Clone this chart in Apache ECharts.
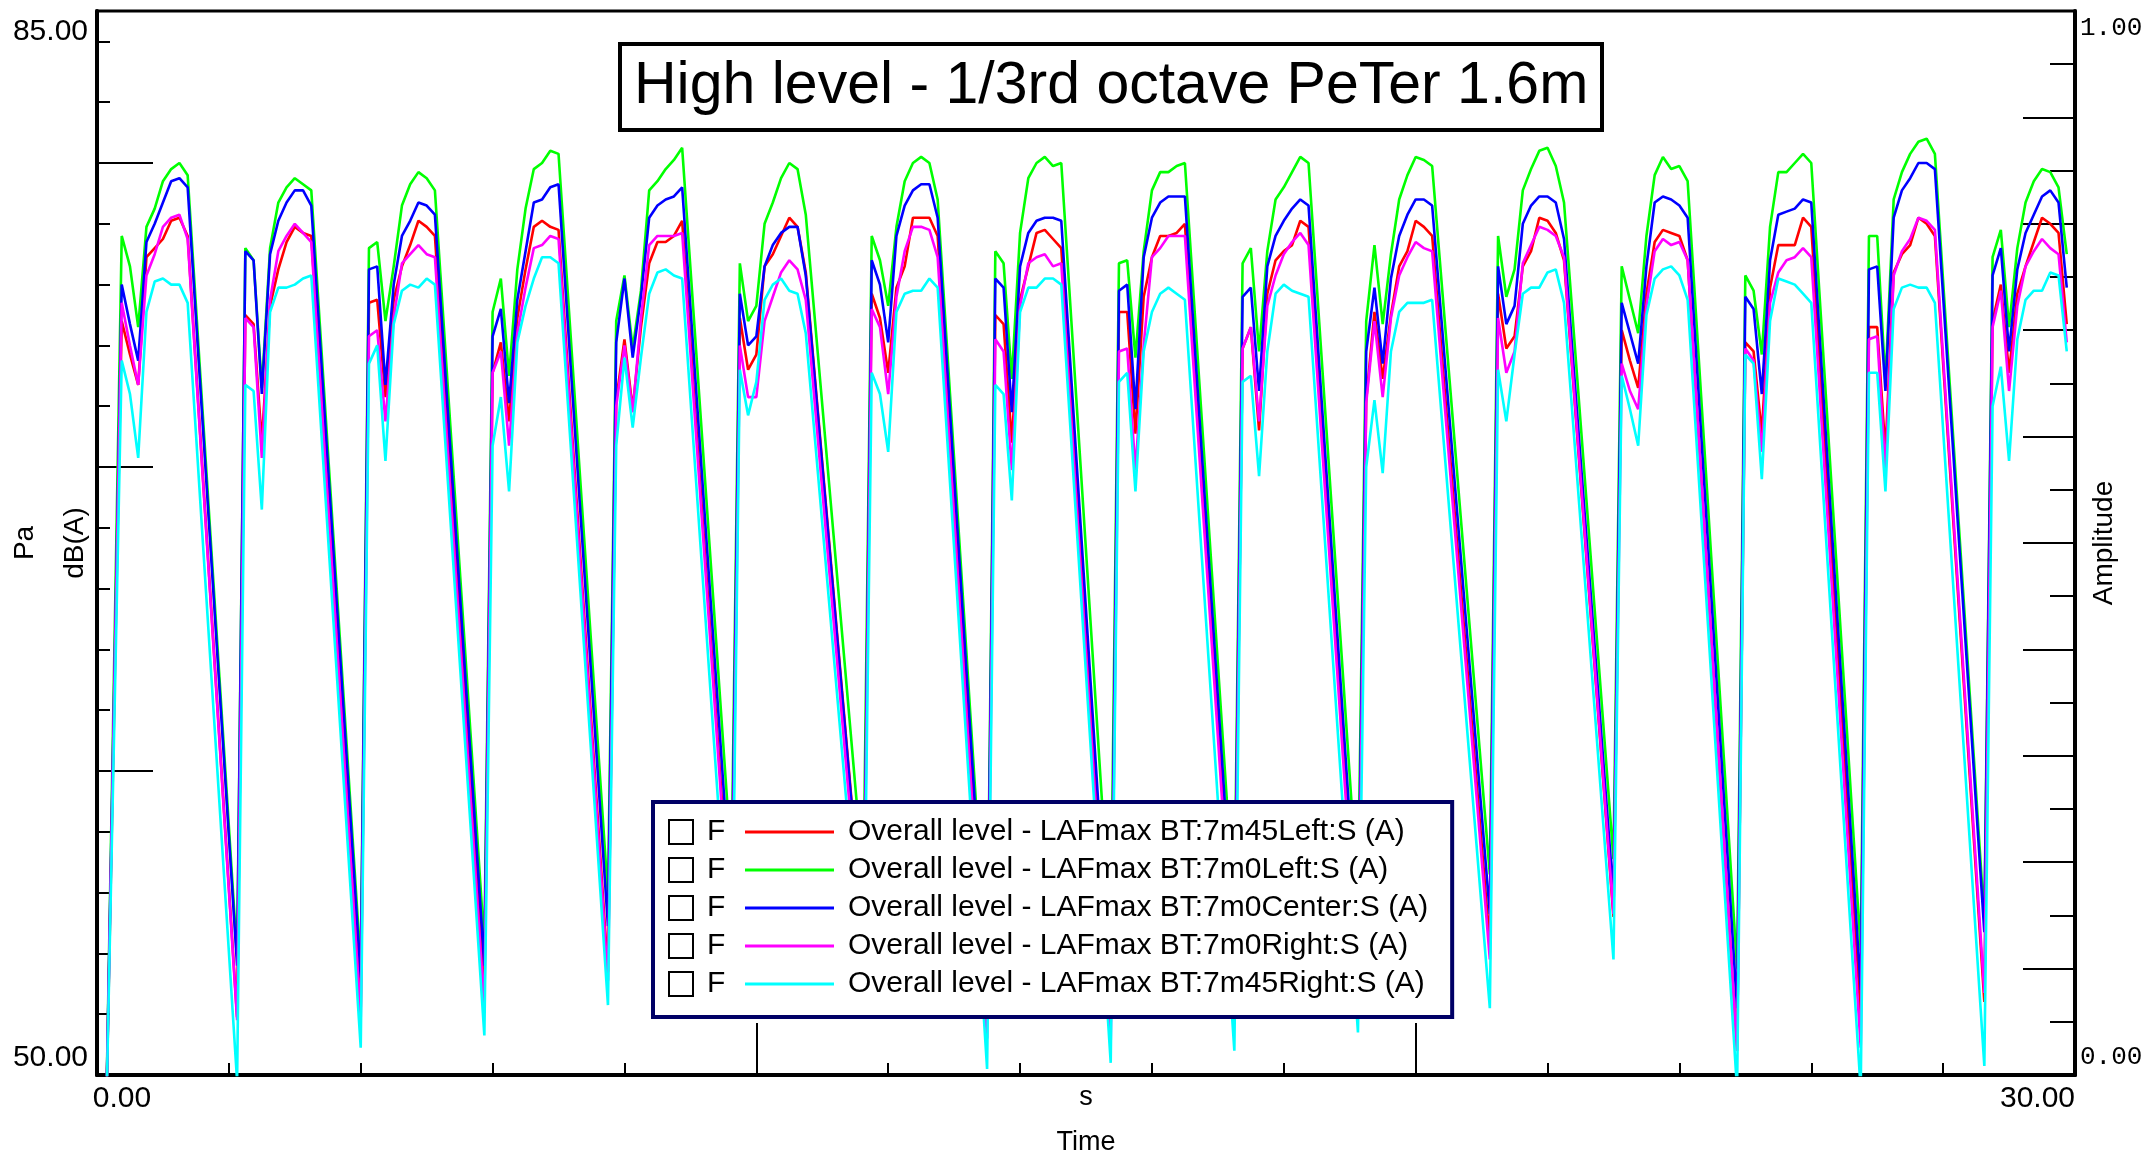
<!DOCTYPE html>
<html>
<head>
<meta charset="utf-8">
<script src="https://cdn.jsdelivr.net/npm/echarts@6/dist/echarts.min.js"></script>
<style>
html,body{margin:0;padding:0;background:#ffffff;}
#chart{width:2146px;height:1155px;}
</style>
</head>
<body>
<div id="chart"></div>
<script>
// ---------------- DATA ----------------
const titleText = 'High level - 1/3rd octave PeTer 1.6m';

// sample times in seconds (vertices of the traces)
const timeS = [
  0.125,
  0.375, 0.5, 0.625, 0.75, 0.875, 1.0, 1.125, 1.25, 1.375,
  2.125,
  2.25, 2.375, 2.5, 2.625, 2.75, 2.875, 3.0, 3.125, 3.25,
  4.0,
  4.125, 4.25, 4.375, 4.5, 4.625, 4.75, 4.875, 5.0, 5.125,
  5.875,
  6.0, 6.125, 6.25, 6.375, 6.5, 6.625, 6.75, 6.875, 7.0,
  7.75,
  7.875, 8.0, 8.125, 8.25, 8.375, 8.5, 8.625, 8.75, 8.875,
  9.625,
  9.75, 9.875, 10.0, 10.125, 10.25, 10.375, 10.5, 10.625, 10.75,
  11.625,
  11.75, 11.875, 12.0, 12.125, 12.25, 12.375, 12.5, 12.625, 12.75,
  13.5,
  13.625, 13.75, 13.875, 14.0, 14.125, 14.25, 14.375, 14.5, 14.625,
  15.375,
  15.5, 15.625, 15.75, 15.875, 16.0, 16.125, 16.25, 16.375, 16.5,
  17.25,
  17.375, 17.5, 17.625, 17.75, 17.875, 18.0, 18.125, 18.25, 18.375,
  19.125,
  19.25, 19.375, 19.5, 19.625, 19.75, 19.875, 20.0, 20.125, 20.25,
  21.125,
  21.25, 21.375, 21.5, 21.625, 21.75, 21.875, 22.0, 22.125, 22.25,
  23.0,
  23.125, 23.25, 23.375, 23.5, 23.625, 23.75, 23.875, 24.0, 24.125,
  24.875,
  25.0, 25.125, 25.25, 25.375, 25.5, 25.625, 25.75, 25.875, 26.0,
  26.75,
  26.875, 27.0, 27.125, 27.25, 27.375, 27.5, 27.625, 27.75, 27.875,
  28.625,
  28.75, 28.875, 29.0, 29.125, 29.25, 29.375, 29.5, 29.625, 29.75, 29.875
];

const level7m45Left = [
  47,
  74.8, 73.7, 72.7, 76.9, 77.2, 77.5, 78.1, 78.2, 77.6,
  51.9,
  75.0, 74.7, 70.8, 75.3, 76.5, 77.4, 77.9, 77.7, 77.6,
  52.2,
  75.4, 75.5, 72.3, 75.5, 76.6, 77.3, 78.1, 77.9, 77.6,
  52.8,
  73.1, 74.1, 71.5, 74.9, 76.5, 77.9, 78.1, 77.9, 77.8,
  53.4,
  72.2, 74.2, 71.9, 74.6, 76.7, 77.4, 77.4, 77.6, 78.1,
  54.4,
  74.9, 73.2, 73.7, 76.6, 77.0, 77.6, 78.2, 77.9, 76.4,
  54.5,
  75.7, 74.9, 73.1, 75.9, 76.6, 78.2, 78.2, 78.2, 77.6,
  51.9,
  75.0, 74.7, 70.8, 75.5, 76.6, 77.7, 77.8, 77.5, 77.2,
  51.7,
  75.1, 75.1, 71.1, 75.6, 76.9, 77.6, 77.6, 77.7, 78.0,
  53.3,
  73.9, 74.6, 71.2, 75.7, 76.8, 77.1, 77.3, 78.1, 77.9,
  53.7,
  72.2, 75.1, 72.9, 75.0, 76.6, 77.1, 78.1, 77.9, 77.6,
  54.3,
  75.7, 73.9, 74.3, 76.6, 77.1, 78.2, 78.1, 77.7, 76.8,
  55.2,
  74.5, 73.5, 72.6, 75.7, 77.4, 77.8, 77.7, 77.6, 76.8,
  50.8,
  74.1, 73.8, 71.1, 75.9, 77.3, 77.3, 77.3, 78.2, 77.9,
  52.0,
  74.6, 74.6, 70.5, 76.4, 77.0, 77.3, 78.2, 78.0, 77.6,
  52.4,
  74.8, 76.0, 73.1, 75.7, 76.6, 77.4, 78.2, 78.0, 77.7, 74.7
];

const level7m0Left = [
  47,
  77.6, 76.6, 74.6, 77.9, 78.5, 79.4, 79.8, 80.0, 79.6,
  53.9,
  77.2, 76.8, 72.6, 77.2, 78.7, 79.2, 79.5, 79.3, 79.1,
  53.6,
  77.2, 77.4, 74.8, 76.6, 78.6, 79.3, 79.7, 79.5, 79.1,
  54.3,
  75.1, 76.2, 73.0, 76.5, 78.5, 79.8, 80.0, 80.4, 80.3,
  55.9,
  74.8, 76.3, 73.9, 75.8, 79.1, 79.4, 79.8, 80.1, 80.5,
  56.9,
  76.7, 74.8, 75.3, 78.0, 78.7, 79.5, 80.0, 79.8, 78.3,
  56.4,
  77.6, 76.8, 75.3, 77.9, 79.4, 80.0, 80.2, 80.0, 78.8,
  53.2,
  77.1, 76.7, 72.9, 77.7, 79.5, 80.0, 80.2, 79.9, 80.0,
  54.5,
  76.7, 76.8, 73.6, 77.1, 79.1, 79.7, 79.7, 79.9, 80.0,
  55.3,
  76.7, 77.2, 73.8, 77.1, 78.8, 79.2, 79.7, 80.2, 80.0,
  55.8,
  74.8, 77.3, 74.7, 77.0, 78.8, 79.6, 80.2, 80.1, 79.9,
  56.6,
  77.6, 75.6, 76.5, 79.1, 79.8, 80.4, 80.5, 79.9, 78.7,
  57.1,
  76.6, 75.5, 74.4, 77.6, 79.6, 80.2, 79.8, 79.9, 79.4,
  53.5,
  76.3, 75.8, 73.7, 77.9, 79.7, 79.7, 80.0, 80.3, 80.0,
  54.1,
  77.6, 77.6, 72.8, 78.8, 79.7, 80.3, 80.7, 80.8, 80.3,
  55.1,
  76.9, 77.8, 74.6, 77.2, 78.7, 79.4, 79.8, 79.7, 79.2, 77.0
];

const level7m0Center = [
  47,
  76.0, 74.7, 73.5, 77.4, 78.0, 78.7, 79.4, 79.5, 79.2,
  53.6,
  77.1, 76.8, 72.4, 77.0, 78.1, 78.7, 79.1, 79.1, 78.6,
  53.2,
  76.5, 76.6, 72.7, 76.0, 77.6, 78.1, 78.7, 78.6, 78.3,
  53.6,
  74.3, 75.2, 72.1, 75.5, 77.1, 78.7, 78.8, 79.2, 79.3,
  54.9,
  74.1, 76.2, 73.6, 75.6, 78.2, 78.6, 78.8, 78.9, 79.2,
  55.6,
  75.7, 74.0, 74.3, 76.6, 77.3, 77.7, 77.9, 77.9, 76.3,
  54.4,
  76.8, 76.0, 74.1, 77.6, 78.6, 79.1, 79.3, 79.3, 78.2,
  52.6,
  76.2, 75.9, 71.8, 76.6, 77.7, 78.1, 78.2, 78.2, 78.1,
  52.5,
  75.8, 76.0, 71.9, 76.9, 78.2, 78.7, 78.9, 78.9, 78.9,
  54.2,
  75.6, 75.9, 72.5, 76.6, 77.6, 78.1, 78.5, 78.8, 78.6,
  54.4,
  73.8, 75.9, 73.4, 76.2, 77.6, 78.3, 78.8, 78.8, 78.6,
  55.3,
  76.6, 74.7, 75.3, 78.0, 78.6, 78.9, 78.9, 78.7, 77.5,
  55.9,
  75.4, 74.4, 73.4, 76.6, 78.7, 78.9, 78.8, 78.6, 78.2,
  52.2,
  75.6, 75.2, 72.4, 76.8, 78.3, 78.4, 78.5, 78.8, 78.7,
  52.8,
  76.5, 76.6, 72.5, 78.2, 79.1, 79.5, 80.0, 80.0, 79.8,
  54.7,
  76.3, 77.2, 73.8, 76.5, 77.7, 78.3, 78.9, 79.1, 78.7, 75.9
];

const level7m0Right = [
  47,
  75.4, 74.0, 72.7, 76.3, 77.0, 77.9, 78.2, 78.3, 77.5,
  51.8,
  74.9, 74.6, 70.3, 75.5, 77.1, 77.6, 78.0, 77.7, 77.4,
  51.9,
  74.3, 74.5, 71.5, 74.9, 76.7, 77.0, 77.3, 77.0, 76.9,
  52.2,
  73.1, 73.8, 70.7, 74.4, 75.9, 77.2, 77.3, 77.6, 77.5,
  53.1,
  72.0, 74.0, 71.8, 74.9, 77.3, 77.6, 77.6, 77.6, 77.7,
  54.1,
  74.0, 72.3, 72.3, 74.8, 75.6, 76.4, 76.8, 76.5, 75.5,
  53.6,
  75.2, 74.6, 72.4, 75.6, 77.1, 77.9, 77.9, 77.8, 76.9,
  51.2,
  74.2, 73.8, 69.9, 75.3, 76.7, 76.9, 77.0, 76.6, 76.7,
  51.1,
  73.8, 73.9, 69.9, 74.0, 76.9, 77.2, 77.6, 77.6, 77.6,
  52.9,
  73.9, 74.6, 71.5, 75.3, 76.3, 77.0, 77.4, 77.7, 77.3,
  53.1,
  72.1, 74.8, 72.3, 74.9, 76.3, 76.9, 77.4, 77.2, 77.1,
  53.8,
  74.9, 73.1, 73.8, 76.7, 77.3, 77.9, 77.8, 77.6, 76.9,
  55.3,
  73.4, 72.5, 71.9, 75.3, 77.1, 77.5, 77.3, 77.4, 76.8,
  50.8,
  73.9, 73.5, 70.5, 75.4, 76.4, 76.8, 76.9, 77.2, 76.9,
  50.9,
  74.2, 74.3, 69.9, 76.3, 77.1, 77.5, 78.2, 78.1, 77.8,
  52.7,
  74.6, 75.8, 72.5, 75.3, 76.6, 77.1, 77.5, 77.2, 77.0, 74.1
];

const level7m45Right = [
  47,
  73.5, 72.4, 70.3, 75.1, 76.1, 76.2, 76.0, 76.0, 75.4,
  49.8,
  72.7, 72.5, 68.6, 75.1, 75.9, 75.9, 76.0, 76.2, 76.3,
  50.9,
  73.4, 74.0, 70.2, 74.7, 75.8, 76.0, 75.9, 76.2, 76.0,
  51.3,
  70.7, 72.3, 69.2, 74.1, 75.3, 76.2, 76.9, 76.9, 76.7,
  52.3,
  70.7, 73.6, 71.3, 73.6, 75.7, 76.4, 76.5, 76.3, 76.2,
  52.5,
  73.2, 71.7, 72.8, 75.5, 76.0, 76.2, 75.8, 75.7, 74.4,
  52.5,
  73.1, 72.4, 70.5, 75.1, 75.7, 75.8, 75.8, 76.2, 75.9,
  50.2,
  72.7, 72.4, 68.9, 75.1, 75.9, 75.9, 76.2, 76.2, 76.0,
  50.4,
  72.8, 73.1, 69.2, 73.8, 75.1, 75.7, 75.9, 75.7, 75.5,
  50.8,
  72.8, 73.0, 69.7, 73.8, 75.7, 76.0, 75.8, 75.7, 75.6,
  51.4,
  70.0, 72.2, 69.8, 73.8, 75.1, 75.4, 75.4, 75.4, 75.5,
  52.2,
  73.2, 71.5, 73.7, 75.7, 75.9, 75.9, 76.4, 76.5, 75.4,
  53.8,
  73.0, 71.9, 70.7, 75.0, 76.2, 76.5, 76.6, 76.3, 75.5,
  49.5,
  73.7, 73.4, 69.6, 74.8, 76.2, 76.1, 76.0, 75.7, 75.4,
  49.5,
  73.1, 73.1, 69.2, 75.2, 75.9, 76.0, 75.9, 75.9, 75.4,
  50.3,
  72.0, 73.3, 70.2, 74.2, 75.5, 75.8, 75.8, 76.4, 76.3, 73.8
];

const seriesNames = [
  'Overall level - LAFmax BT:7m45Left:S (A)',
  'Overall level - LAFmax BT:7m0Left:S (A)',
  'Overall level - LAFmax BT:7m0Center:S (A)',
  'Overall level - LAFmax BT:7m0Right:S (A)',
  'Overall level - LAFmax BT:7m45Right:S (A)'
];
const seriesColors = ['#ff0000', '#00ff00', '#0000ff', '#ff00ff', '#00ffff'];

const leftTickLabels = { 50: '50.00', 85: '85.00' };
const rightTickLabels = { 0: '0.00', 1: '1.00' };
const timeTickLabels = { 0: '0.00', 30: '30.00' };
const leftAxisName = 'Pa\ndB(A)';
const rightAxisName = 'Amplitude';
const timeUnit = 's';
const timeAxisName = 'Time';
const legendPrefix = 'F';

// ---------------- CHART ----------------
const FONT = '"Liberation Sans", Arial, sans-serif';
const MONO = '"Liberation Mono", "Courier New", monospace';
const seriesValues = [level7m45Left, level7m0Left, level7m0Center, level7m0Right, level7m45Right];

const chart = echarts.init(document.getElementById('chart'), null, { renderer: 'canvas', width: 2146, height: 1155 });

const legendRich = {
  cb: { width: 22, height: 22, borderColor: '#000', borderWidth: 2, backgroundColor: '#fff' },
  g1: { width: 15 },
  f: { width: 18, fontSize: 30, fontFamily: FONT, color: '#000' },
  g2: { width: 20 },
  g3: { width: 14 },
  tx: { fontSize: 30, fontFamily: FONT, color: '#000' }
};
seriesColors.forEach((c, i) => { legendRich['ln' + i] = { width: 89, height: 3, backgroundColor: c }; });

const option = {
  animation: false,
  backgroundColor: '#ffffff',
  title: {
    text: titleText,
    left: 620,
    top: 44,
    padding: [13, 14],
    borderColor: '#000',
    borderWidth: 4,
    textStyle: { fontFamily: FONT, fontSize: 59, fontWeight: 'normal', color: '#000', lineHeight: 60 }
  },
  grid: {
    left: 97, right: 71, top: 11, bottom: 80,
    containLabel: false,
    outerBoundsMode: 'none',
    show: true,
    borderColor: '#000',
    borderWidth: 3,
    backgroundColor: 'transparent'
  },
  legend: {
    z: 20,
    orient: 'vertical',
    left: 653,
    top: 802,
    data: seriesNames,
    selectedMode: false,
    itemWidth: 0,
    itemHeight: 30,
    itemGap: 8,
    padding: [15, 24, 18, 0],
    backgroundColor: '#ffffff',
    borderColor: '#000066',
    borderWidth: 4,
    itemStyle: { opacity: 0 },
    lineStyle: { opacity: 0 },
    formatter: function (name) {
      const i = seriesNames.indexOf(name);
      return '{cb| }{g1| }{f|' + legendPrefix + '}{g2| }{ln' + i + '| }{g3| }{tx|' + name + '}';
    },
    textStyle: { fontSize: 30, fontFamily: FONT, color: '#000', lineHeight: 30, rich: legendRich }
  },
  xAxis: {
    type: 'value',
    min: 0, max: 30, interval: 10,
    name: '{s|' + timeUnit + '}\n{t|' + timeAxisName + '}',
    nameLocation: 'middle',
    nameGap: 0,
    nameMoveOverlap: false,
    nameTextStyle: {
      fontFamily: FONT, fontSize: 27, color: '#000',
      rich: {
        s: { fontFamily: FONT, fontSize: 27, color: '#000', lineHeight: 45 },
        t: { fontFamily: FONT, fontSize: 27, color: '#000', lineHeight: 45 }
      }
    },
    axisLine: { show: true, onZero: false, lineStyle: { color: '#000', width: 4 } },
    axisTick: { show: true, inside: true, length: 52, lineStyle: { color: '#000', width: 2 } },
    minorTick: { show: true, splitNumber: 5, length: 12, lineStyle: { color: '#000', width: 2 } },
    splitLine: { show: false },
    minorSplitLine: { show: false },
    axisLabel: {
      show: true, margin: 9, showMinLabel: true, showMaxLabel: true,
      fontFamily: FONT, fontSize: 30, color: '#000',
      formatter: function (v) {
        if (v === 0) return '{l|' + timeTickLabels[0] + '}';
        if (v === 30) return '{r|' + timeTickLabels[30] + '}';
        return '';
      },
      rich: {
        l: { fontFamily: FONT, fontSize: 30, color: '#000', padding: [0, 0, 0, 50] },
        r: { fontFamily: FONT, fontSize: 30, color: '#000', padding: [0, 75, 0, 0] }
      }
    }
  },
  yAxis: [
    {
      type: 'value',
      position: 'left',
      min: 50, max: 85, interval: 2,
      name: leftAxisName,
      nameLocation: 'middle',
      nameGap: -3,
      nameMoveOverlap: false,
      nameTextStyle: { fontFamily: FONT, fontSize: 28, color: '#000', lineHeight: 50 },
      axisLine: { show: true, onZero: false, lineStyle: { color: '#000', width: 4 } },
      axisTick: { show: true, inside: true, length: 13, lineStyle: { color: '#000', width: 2 } },
      splitLine: { show: false },
      axisLabel: {
        show: true, margin: 9, showMinLabel: true, showMaxLabel: true,
        fontFamily: FONT, fontSize: 30, color: '#000',
        formatter: function (v) {
          if (v === 85) return '{t|' + leftTickLabels[85] + '}';
          if (v === 50) return '{b|' + leftTickLabels[50] + '}';
          return '';
        },
        rich: {
          t: { fontFamily: FONT, fontSize: 30, color: '#000', padding: [42, 0, 0, 0] },
          b: { fontFamily: FONT, fontSize: 30, color: '#000', padding: [0, 0, 34, 0] }
        }
      }
    },
    {
      type: 'value',
      position: 'left',
      min: 50, max: 85, interval: 10,
      axisLine: { show: false },
      axisTick: { show: true, inside: true, length: 56, lineStyle: { color: '#000', width: 2 } },
      axisLabel: { show: false },
      splitLine: { show: false }
    },
    {
      type: 'value',
      position: 'right',
      min: 0, max: 1, interval: 0.1,
      name: rightAxisName,
      nameLocation: 'middle',
      nameGap: 15,
      nameMoveOverlap: false,
      nameTextStyle: { fontFamily: FONT, fontSize: 28, color: '#000' },
      axisLine: { show: true, onZero: false, lineStyle: { color: '#000', width: 4 } },
      axisTick: { show: true, inside: true, length: 52, lineStyle: { color: '#000', width: 2 } },
      minorTick: { show: true, splitNumber: 2, length: 25, lineStyle: { color: '#000', width: 2 } },
      splitLine: { show: false },
      minorSplitLine: { show: false },
      axisLabel: {
        show: true, margin: 5, showMinLabel: true, showMaxLabel: true,
        fontFamily: MONO, fontSize: 26, color: '#000',
        formatter: function (v) {
          if (Math.abs(v - 1) < 1e-9) return '{t|' + rightTickLabels[1] + '}';
          if (Math.abs(v) < 1e-9) return '{b|' + rightTickLabels[0] + '}';
          return '';
        },
        rich: {
          t: { fontFamily: MONO, fontSize: 26, color: '#000', padding: [34, 0, 0, 0] },
          b: { fontFamily: MONO, fontSize: 26, color: '#000', padding: [0, 0, 36, 0] }
        }
      }
    }
  ],
  series: seriesValues.map(function (vals, i) {
    return {
      name: seriesNames[i],
      type: 'line',
      xAxisIndex: 0,
      yAxisIndex: 0,
      data: timeS.map(function (t, j) { return [t, vals[j]]; }),
      symbol: 'none',
      showSymbol: false,
      clip: true,
      color: seriesColors[i],
      lineStyle: { color: seriesColors[i], width: 2.6 }
    };
  })
};

chart.setOption(option);
</script>
</body>
</html>
